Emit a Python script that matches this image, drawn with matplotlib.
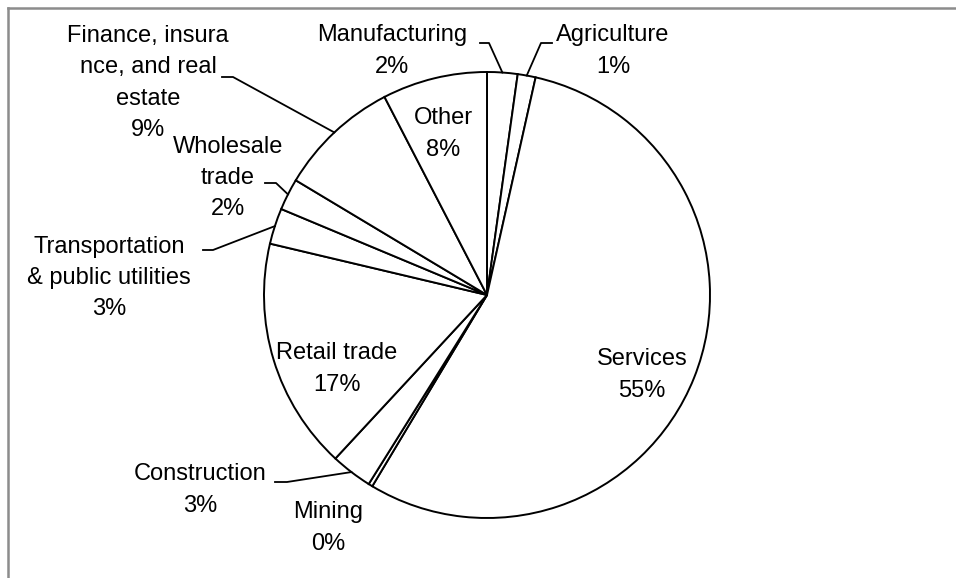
import numpy as np
import matplotlib
matplotlib.use("Agg")
import matplotlib.pyplot as plt

plt.rcParams['font.family'] = ['Liberation Sans', 'DejaVu Sans']

## Dados
setores = [
    "Manufacturing",
    "Agriculture",
    "Services",
    "Mining",
    "Construction",
    "Retail trade",
    "Transportation\n& public utilities",
    "Wholesale\ntrade",
    "Finance, insura\nnce, and real\nestate",
    "Other",
]
percentuais = [2.2, 1.3, 55.1, 0.3, 3.0, 16.8, 2.6, 2.3, 8.8, 7.6]

## Layout (pixels da imagem, y para baixo)
W, H = 956, 578
cx, cy, raio = 487, 295, 223

# centro do texto de cada rótulo
pos_rotulo = {
    "Manufacturing": (392, 51),
    "Agriculture": (613, 51),
    "Services": (642, 375),
    "Mining": (328, 528),
    "Construction": (200, 490),
    "Retail trade": (337, 369),
    "Transportation\n& public utilities": (109, 278),
    "Wholesale\ntrade": (228, 178),
    "Finance, insura\nnce, and real\nestate": (148, 83),
    "Other": (443, 134),
}
# linhas de chamada: (início, cotovelo)
chamadas = {
    "Manufacturing": ((480, 43), (489, 43)),
    "Agriculture": ((552, 43), (541, 43)),
    "Construction": ((275, 482), (287, 482)),
    "Transportation\n& public utilities": ((203, 250), (213, 250)),
    "Wholesale\ntrade": ((265, 183), (276, 183)),
    "Finance, insura\nnce, and real\nestate": ((222, 77), (233, 77)),
}


def Y(py):
    return H - py


fig = plt.figure(figsize=(W / 100, H / 100), dpi=100)
ax = fig.add_axes([0, 0, 1, 1])

fatias, _ = ax.pie(percentuais, center=(cx, Y(cy)), radius=raio,
                   startangle=90, counterclock=False,
                   wedgeprops=dict(facecolor="white", edgecolor="black", linewidth=1.4))

ax.set_xlim(0, W)
ax.set_ylim(0, H)
ax.set_aspect('equal')
ax.axis('off')

for fatia, nome, p in zip(fatias, setores, percentuais):
    x, y = pos_rotulo[nome]
    ax.text(x, Y(y), f"{nome}\n{p:.0f}%", ha="center", va="center",
            fontsize=17, linespacing=1.53, color="black")
    if nome in chamadas:
        ang = np.deg2rad((fatia.theta1 + fatia.theta2) / 2)
        ex = cx + raio * np.cos(ang)
        ey = Y(cy) + raio * np.sin(ang)
        (x0, y0), (x1, y1) = chamadas[nome]
        ax.plot([x0, x1, ex], [Y(y0), Y(y1), ey], color="black", linewidth=1.3)

# moldura (apenas topo e esquerda visíveis)
ax.plot([8, W], [Y(8), Y(8)], color="#8c8c8c", linewidth=1.8)
ax.plot([8, 8], [Y(8), 0], color="#8c8c8c", linewidth=1.8)

fig.savefig("out.png", dpi=100)
